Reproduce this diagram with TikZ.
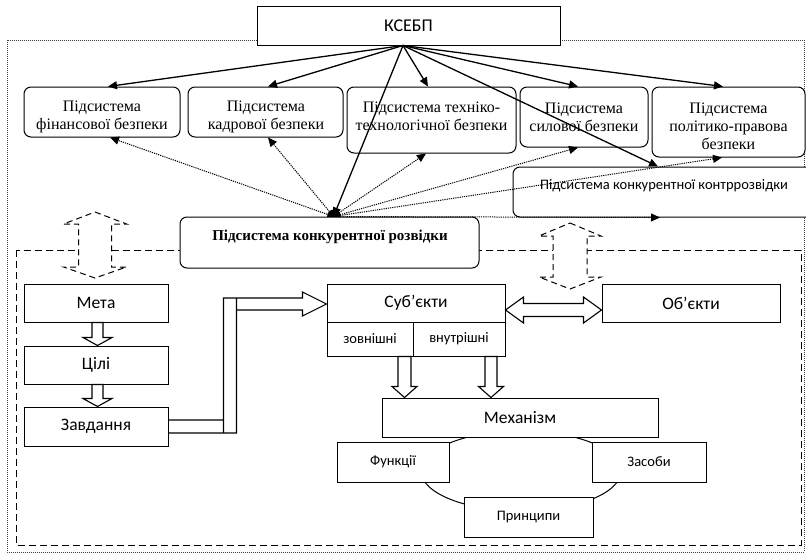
\documentclass[tikz,border=0pt]{standalone}
\usepackage{fontspec}
\setmainfont{Liberation Serif}
\newfontfamily\sansf{Carlito}
\usetikzlibrary{calc,arrows.meta}
\begin{document}
\begin{tikzpicture}[x=1pt,y=-1pt,line width=1pt,
  box/.style={draw, fill=white, inner sep=0pt, line width=1pt},
  rbox/.style={box, rounded corners=7pt},
  subt/.style={font=\fontsize{16}{18}\selectfont, align=center, inner sep=0pt},
  lab/.style={font=\sansf\fontsize{17.5}{20}\selectfont},
  slab/.style={font=\sansf\fontsize{14.5}{17}\selectfont},
  arr/.style={-{Triangle[length=9pt,width=8pt]}, line width=1.3pt},
  darr/.style={-{Triangle[length=9pt,width=8pt]}, line width=1pt, dash pattern=on 1.2pt off 1pt},
  hollow/.style={draw, fill=white, line width=1.1pt, line join=miter},
  dhollow/.style={draw, fill=white, line width=1pt, dash pattern=on 6pt off 4pt}]
\useasboundingbox (0,0) rectangle (806,555);

% frames
\draw[black!75, line width=0.8pt, dash pattern=on 0.8pt off 1.2pt] (7,40) rectangle (804,552);
\draw[line width=1pt, dash pattern=on 7pt off 4pt] (16,250) rectangle (801,545);

% top
\node[box, minimum width=303pt, minimum height=39pt, font=\sansf\fontsize{18}{20}\selectfont] (ksebp) at (408.5,25.5) {КСЕБП};
\coordinate (ksp) at ([xshift=-5.5pt]ksebp.south);

\node[rbox, minimum width=156pt, minimum height=50pt] (fin) at (102,112) {};
\node[subt] (fint) at (102,117) {Підсистема\\фінансової безпеки};
\node[rbox, minimum width=155pt, minimum height=50pt] (kad) at (265.5,112) {};
\node[subt] (kadt) at (266,117) {Підсистема\\кадрової безпеки};
\node[rbox, minimum width=169pt, minimum height=66pt] (tech) at (431.5,120) {};
\node[subt] (techt) at (431.5,116) {Підсистема техніко-\\технологічної безпеки};
\node[rbox, minimum width=128pt, minimum height=60pt] (sil) at (584,117) {};
\node[subt] (silt) at (584,117) {Підсистема\\силової безпеки};
\node[rbox, minimum width=153pt, minimum height=70pt] (pol) at (728.5,122) {};
\node[subt] (polt) at (728.5,126) {Підсистема\\політико-правова\\безпеки};
\node[rbox, minimum width=317pt, minimum height=50pt] (ctr) at (671.5,192) {};
\node[slab] (ctrt) at (664,186) {Підсистема конкурентної контррозвідки};

\node[rbox, minimum width=299pt, minimum height=51pt] (intel) at (329.5,242.5) {};
\node[font=\bfseries\fontsize{15}{18}\selectfont, inner sep=0pt] (intt) at (330,237) {Підсистема конкурентної розвідки};
\coordinate (hub) at ([xshift=4pt]intel.north);

% dashed hollow double arrows
\path[dhollow] (95,212) -- (126.5,224) -- (111.5,224) -- (111.5,267) -- (126.5,267) -- (95,278)
  -- (63.5,267) -- (78.5,267) -- (78.5,224) -- (63.5,224) -- cycle;
\path[dhollow] (570,223) -- (601,236) -- (587,236) -- (587,277) -- (601,277) -- (570,289)
  -- (539,277) -- (553,277) -- (553,236) -- (539,236) -- cycle;

% solid arrows from KSEBP
\draw[arr] (ksp) -- ([xshift=6pt]fin.north);
\draw[arr] (ksp) -- ([xshift=2.5pt]kad.north);
\draw[arr] (ksp) -- ([xshift=-3.5pt]tech.north);
\draw[arr] (ksp) -- ([xshift=-6pt]sil.north);
\draw[arr] (ksp) -- ([xshift=-5.5pt]pol.north);
\draw[arr] (ksp) -- ([xshift=-13.5pt]ctr.north);
\draw[arr] (ksp) -- (hub);

% dotted arrows from intelligence
\draw[darr] (hub) -- ([xshift=8pt]fin.south);
\draw[darr] (hub) -- ([xshift=2.5pt]kad.south);
\draw[darr] (hub) -- ([xshift=-5.5pt]tech.south);
\draw[darr] (hub) -- ([xshift=-6pt]sil.south);
\draw[darr] (hub) -- ([xshift=-6.5pt]pol.south);
\draw[darr] (hub) -- ([xshift=-11.5pt]ctr.south);
\fill ([xshift=-7pt]hub) .. controls ([xshift=-7pt,yshift=9.3pt]hub) and ([xshift=7pt,yshift=9.3pt]hub) .. ([xshift=7pt]hub) -- cycle;

% lower part
\draw[line width=1pt] (521,471) ellipse [x radius=100, y radius=40];

\node[box, minimum width=144pt, minimum height=38pt, lab] (meta) at (96,303) {Мета};
\node[box, minimum width=144pt, minimum height=38pt, lab] (cili) at (96,365) {Цілі};
\node[box, minimum width=144pt, minimum height=39pt, lab] (zav) at (96,426.5) {Завдання};
\node[box, minimum width=178pt, minimum height=38pt, lab] (subj) at (416,303) {Суб’єкти};
\node[box, minimum width=86pt, minimum height=34pt, slab] (zovn) at (370,339) {зовнішні};
\node[box, minimum width=92pt, minimum height=34pt, slab] (vnut) at (459,339) {внутрішні};
\node[box, minimum width=178pt, minimum height=38pt, lab] (obj) at (691,303) {Об’єкти};
\node[box, minimum width=276pt, minimum height=39pt, lab] (mech) at (520,417.5) {Механізм};
\node[box, minimum width=112pt, minimum height=40pt, slab] (func) at (393,462) {Функції};
\node[box, minimum width=114pt, minimum height=40pt, slab] (zas) at (649,462) {Засоби};
\node[box, minimum width=129pt, minimum height=40pt, slab] (princ) at (528.5,517) {Принципи};

% hollow arrows
\draw[hollow] let \p1=([xshift=1.5pt]meta.south), \p2=(cili.north) in
  (\x1-5.5pt,\y1) -- (\x1+5.5pt,\y1) -- (\x1+5.5pt,\y2+8pt) -- (\x1+14.5pt,\y2+8pt) -- (\x1,\y2)
  -- (\x1-14.5pt,\y2+8pt) -- (\x1-5.5pt,\y2+8pt) -- cycle;
\draw[hollow] let \p1=([xshift=1.5pt]cili.south), \p2=(zav.north) in
  (\x1-5.5pt,\y1) -- (\x1+5.5pt,\y1) -- (\x1+5.5pt,\y2+8pt) -- (\x1+14.5pt,\y2+8pt) -- (\x1,\y2)
  -- (\x1-14.5pt,\y2+8pt) -- (\x1-5.5pt,\y2+8pt) -- cycle;
\draw[hollow] let \p1=([xshift=34.5pt]zovn.south), \p2=(mech.north) in
  (\x1-6.5pt,\y1) -- (\x1+6.5pt,\y1) -- (\x1+6.5pt,\y2+11pt) -- (\x1+12.5pt,\y2+11pt) -- (\x1,\y2)
  -- (\x1-12.5pt,\y2+11pt) -- (\x1-6.5pt,\y2+11pt) -- cycle;
\draw[hollow] let \p1=([xshift=32pt]vnut.south), \p2=(mech.north) in
  (\x1-6pt,\y1) -- (\x1+6pt,\y1) -- (\x1+6pt,\y2+11pt) -- (\x1+12.5pt,\y2+11pt) -- (\x1,\y2)
  -- (\x1-12.5pt,\y2+11pt) -- (\x1-6pt,\y2+11pt) -- cycle;
\draw[hollow] let \p1=(subj.east), \p2=(obj.west) in
  (\x1,\y1-7pt) -- (\x1+18pt,\y1+6pt) -- (\x1+18pt,\y1-0.5pt) -- (\x2-18pt,\y1-0.5pt)
  -- (\x2-18pt,\y1+6pt) -- (\x2,\y1-7pt) -- (\x2-18pt,\y1-20pt) -- (\x2-18pt,\y1-13.5pt)
  -- (\x1+18pt,\y1-13.5pt) -- (\x1+18pt,\y1-20pt) -- cycle;
\draw[hollow] let \p1=(zav.east), \p2=(subj.west) in
  (\x1,\y1+6.5pt) -- (\x1+55pt,\y1+6.5pt)
  (\x1,\y1-6.5pt) -- (\x1+55pt,\y1-6.5pt)
  (\x1+55pt,\y2+5pt) rectangle (\x1+68pt,\y1-6.5pt)
  (\x1+68pt,\y2+5pt) -- (\x2-24pt,\y2+5pt) -- (\x2-24pt,\y2+11pt) -- (\x2,\y2-1pt)
  -- (\x2-24pt,\y2-13pt) -- (\x2-24pt,\y2-7pt) -- (\x1+68pt,\y2-7pt);
\end{tikzpicture}
\end{document}
